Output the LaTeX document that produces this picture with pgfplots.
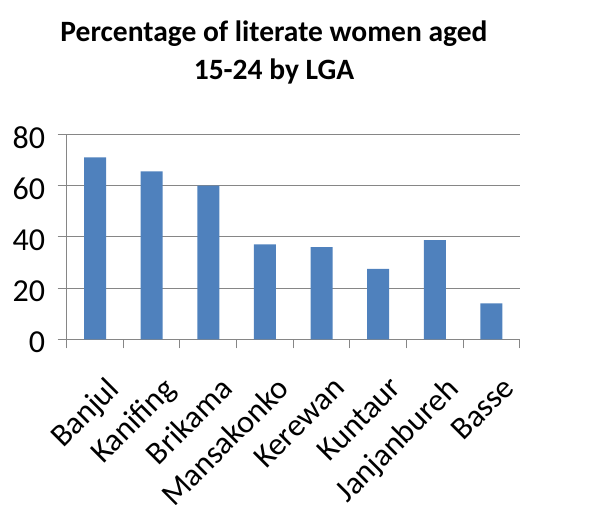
\documentclass[border=0pt]{standalone}
\usepackage{pgfplots}
\pgfplotsset{compat=1.18}
\usepackage{fontspec}
\setmainfont{Carlito}

\definecolor{barblue}{RGB}{79,129,189}
\definecolor{gridgray}{RGB}{134,134,134}

\begin{document}
\begin{tikzpicture}
\path[use as bounding box] (0,0) rectangle (589pt,-505pt);

% title, two lines
\node[anchor=base, font=\fontsize{29.5}{34}\selectfont\bfseries] at (274pt,-42pt) {Percentage of literate women aged};
\node[anchor=base, font=\fontsize{29.5}{34}\selectfont\bfseries] at (274pt,-80pt) {15-24 by LGA};

\begin{axis}[
    at={(66.7pt,-339.3pt)}, anchor=south west,
    scale only axis,
    width=453pt, height=205pt,
    xmin=-0.5, xmax=7.5,
    ymin=0, ymax=80,
    ytick={0,20,40,60,80},
    xtick={0,...,7},
    xticklabels={Banjul, Kanifing, Brikama, Mansakonko, Kerewan, Kuntaur, Janjanbureh, Basse},
    minor xtick={-0.5,0.5,...,7.5},
    major x tick style={draw=none},
    minor x tick style={draw=gridgray, line width=1pt},
    minor tick length=9pt,
    major tick length=9pt,
    tick align=outside,
    ytick style={draw=gridgray, line width=1pt},
    axis lines*=left,
    axis line style={draw=gridgray, line width=1pt, -},
    ymajorgrids,
    major grid style={draw=gridgray, line width=1pt},
    tick label style={font=\fontsize{32}{36}\selectfont, text=black},
    /pgf/number format/assume math mode=true,
    yticklabel style={xshift=-9pt, yshift=-3pt},
    % shifts are in the rotated frame
    xticklabel style={rotate=45, anchor=north east, xshift=-8.5pt, yshift=-22.6pt},
    ybar, bar width=22pt,
    enlarge x limits=false,
]
\addplot[draw=none, fill=barblue] coordinates {
    (0,71) (1,65.5) (2,60) (3,37) (4,36) (5,27.5) (6,38.7) (7,14)
};
\end{axis}
\end{tikzpicture}
\end{document}
